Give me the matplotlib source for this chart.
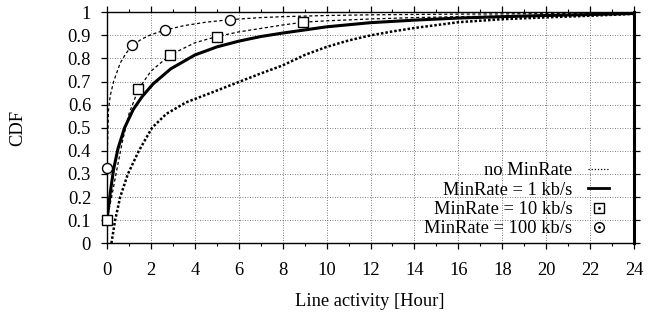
import matplotlib
matplotlib.use("Agg")
import matplotlib.pyplot as plt
from matplotlib.lines import Line2D
from matplotlib.ticker import MultipleLocator, FormatStrFormatter

plt.rcParams['font.family'] = ['Liberation Serif', 'DejaVu Serif']

# ---- data (hours, CDF) ----
no_min_h = [0.2, 0.37, 0.6, 0.95, 1.45, 2.05, 2.7, 3.6, 4.7, 6.05, 7.0, 8.0, 9.0, 10.0,
            11.0, 12.0, 13.0, 14.0, 16.0, 18.0, 20.0, 22.0, 24.0]
no_min_cdf = [0.0, 0.10, 0.20, 0.30, 0.40, 0.50, 0.56, 0.61, 0.65, 0.70, 0.735, 0.77, 0.815, 0.85,
              0.878, 0.90, 0.917, 0.932, 0.957, 0.97, 0.978, 0.985, 0.993]

r1_h = [0.0, 0.05, 0.15, 0.3, 0.5, 0.8, 1.2, 1.6, 2.1, 2.9, 4.0, 5.0, 6.0, 7.0, 8.0, 10.0,
        12.0, 14.0, 16.0, 18.0, 20.0, 22.0, 24.0]
r1_cdf = [0.10, 0.14, 0.22, 0.32, 0.41, 0.50, 0.58, 0.635, 0.69, 0.755, 0.815, 0.85, 0.875,
          0.895, 0.91, 0.937, 0.955, 0.966, 0.975, 0.981, 0.986, 0.99, 0.995]

r10_h = [0.0, 0.1, 0.25, 0.45, 0.7, 1.0, 1.43, 2.0, 2.87, 4.0, 5.0, 6.0, 7.0, 8.0, 8.94,
         10.0, 12.0, 14.0, 16.0, 18.0, 20.0, 22.0, 24.0]
r10_cdf = [0.10, 0.15, 0.22, 0.32, 0.44, 0.56, 0.667, 0.745, 0.815, 0.868, 0.895, 0.915, 0.93,
           0.945, 0.957, 0.963, 0.971, 0.977, 0.981, 0.984, 0.987, 0.99, 0.993]
r10_marks = [0, 6, 8, 10, 14]

r100_h = [0.0, 0.03, 0.07, 0.15, 0.3, 0.6, 0.85, 1.15, 1.6, 2.0, 2.64, 3.5, 4.5, 5.6, 7.0,
          8.0, 10.0, 12.0, 16.0, 20.0, 24.0]
r100_cdf = [0.327, 0.45, 0.58, 0.64, 0.70, 0.78, 0.82, 0.857, 0.885, 0.903, 0.923, 0.942,
            0.957, 0.968, 0.977, 0.981, 0.986, 0.989, 0.992, 0.994, 0.996]
r100_marks = [0, 7, 10, 13]

labels = ["no MinRate", "MinRate = 1 kb/s", "MinRate = 10 kb/s", "MinRate = 100 kb/s"]

FS = 13.3

fig = plt.figure(figsize=(6.63, 3.18), dpi=100)
ax = fig.add_axes([0.1614, 0.235, 0.7949, 0.7264])

ax.plot(no_min_h, no_min_cdf, color='black', lw=1.8, linestyle=(0, (1.0, 0.8)))
ax.plot(r1_h, r1_cdf, color='black', lw=2.2, solid_capstyle='butt')
ax.plot(r10_h, r10_cdf, color='black', lw=0.9, linestyle=(0, (2.5, 2.0)))
ax.plot(r100_h, r100_cdf, color='black', lw=0.9, linestyle=(0, (2.5, 2.0)))
ax.plot([r10_h[i] for i in r10_marks], [r10_cdf[i] for i in r10_marks], linestyle='none',
        marker='s', ms=7.2, mfc='white', mec='black', mew=1.0, clip_on=False, zorder=5)
ax.plot([r100_h[i] for i in r100_marks], [r100_cdf[i] for i in r100_marks], linestyle='none',
        marker='o', ms=7.2, mfc='white', mec='black', mew=1.0, clip_on=False, zorder=5)

ax.set_xlim(0, 24)
ax.set_ylim(0, 1)
ax.xaxis.set_major_locator(MultipleLocator(2))
ax.xaxis.set_minor_locator(MultipleLocator(1))
ax.yaxis.set_major_locator(MultipleLocator(0.1))
ax.yaxis.set_major_formatter(FormatStrFormatter('%g'))
ax.tick_params(which='major', direction='out', length=4.5, width=0.9, labelsize=FS,
               top=True, right=True, color='black')
ax.tick_params(which='minor', direction='out', length=2.5, width=0.8, top=True, bottom=True)
ax.tick_params(axis='x', which='major', pad=9)
ax.tick_params(axis='y', which='major', pad=7)
ax.grid(True, which='major', color='#555555', lw=0.6, linestyle=(0, (1, 2)))
for s in ['left', 'bottom', 'top']:
    ax.spines[s].set_linewidth(1.0)
ax.spines['right'].set_linewidth(2.2)

handles = [
    Line2D([], [], color='black', lw=0.9, linestyle=(0, (1, 1.5))),
    Line2D([], [], color='black', lw=2.0),
    (Line2D([], [], linestyle='none', marker='s', ms=7, mfc='white', mec='black', mew=1.0),
     Line2D([], [], linestyle='none', marker='.', ms=2, color='black')),
    (Line2D([], [], linestyle='none', marker='o', ms=7, mfc='white', mec='black', mew=1.0),
     Line2D([], [], linestyle='none', marker='.', ms=2, color='black')),
]
ax.legend(handles, labels, loc='lower right', bbox_to_anchor=(0.953, 0.025),
          frameon=False, markerfirst=False, fontsize=FS, handlelength=1.15,
          handletextpad=0.85, labelspacing=0.13, borderpad=0, borderaxespad=0)

fig.text(0.558, 0.052, "Line activity [Hour]", ha='center', va='center', fontsize=FS)
fig.text(0.027, 0.598, "CDF", ha='center', va='center', rotation=90, fontsize=FS)

fig.savefig("out.png", dpi=100)
